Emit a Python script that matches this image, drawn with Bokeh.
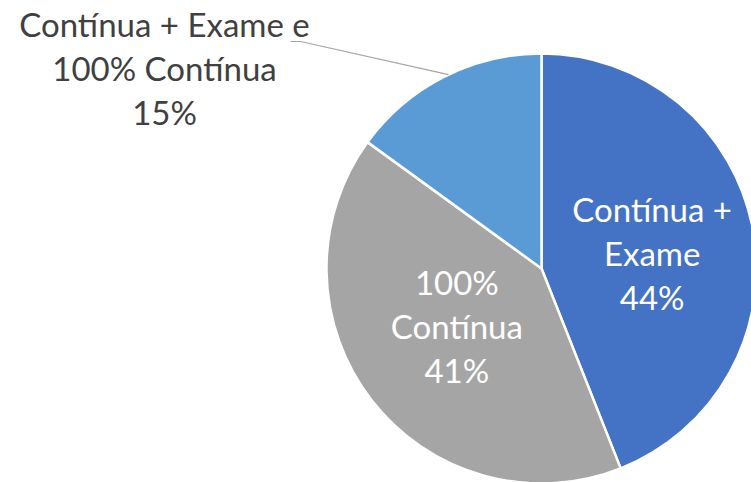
import math
from bokeh.plotting import figure
from bokeh.models import ColumnDataSource
from bokeh.core.properties import value
from bokeh.embed import file_html
from bokeh.resources import INLINE

categories = ["Contínua + Exame", "100% Contínua", "Contínua + Exame e 100% Contínua"]
label_texts = ["Contínua +\nExame", "100%\nContínua", "Contínua + Exame e\n100% Contínua"]
shares = [44, 41, 15]
colors = ["#4472C4", "#A5A5A5", "#5B9BD5"]

W, H = 751, 482
cx, cy, R = 541, H - 268, 215
FONT = "Lato"
FS = "33px"
LH = 1.1

# label placement (fraction of radius, angle tweak in degrees)
lab_r = [0.52, 0.475]
lab_da = [-2.6, -3.8]

p = figure(width=W, height=H, x_range=(0, W), y_range=(0, H),
           output_backend="svg", toolbar_location=None, min_border=0)
p.axis.visible = False
p.grid.visible = False
p.outline_line_color = None
p.background_fill_color = "white"

total = sum(shares)
starts, ends, mids = [], [], []
a = 90.0
for s in shares:
    sweep = 360.0 * s / total
    starts.append(math.radians(a))
    ends.append(math.radians(a - sweep))
    mids.append(math.radians(a - sweep / 2))
    a -= sweep

src = ColumnDataSource(dict(start=starts, end=ends, color=colors))
p.wedge(x=cx, y=cy, radius=R, start_angle="end", end_angle="start",
        fill_color="color", line_color="white", line_width=2.5, source=src)

# inside labels
ix, iy, itxt = [], [], []
for i in range(2):
    ang = mids[i] + math.radians(lab_da[i])
    ix.append(cx + lab_r[i] * R * math.cos(ang))
    iy.append(cy + lab_r[i] * R * math.sin(ang))
    itxt.append(f"{label_texts[i]}\n{shares[i]}%")
p.text(x=ix, y=iy, text=itxt, text_color="white", text_align="center",
       text_baseline="middle", text_font=value(FONT), text_font_size=FS,
       text_line_height=LH)

# outside label with leader line
lx, ly = 164, H - 67
p.text(x=[lx], y=[ly], text=[f"{label_texts[2]}\n{shares[2]}%"], text_color="#404040",
       text_align="center", text_baseline="middle", text_font=value(FONT),
       text_font_size=FS, text_line_height=LH)
ang = math.radians(115.6)
ex, ey = cx + R * math.cos(ang), cy + R * math.sin(ang)
p.line(x=[290, 300, ex], y=[H - 41, H - 41, ey], line_color="#A5A5A5", line_width=1.2)

open("out.html", "w").write(file_html(p, INLINE))
